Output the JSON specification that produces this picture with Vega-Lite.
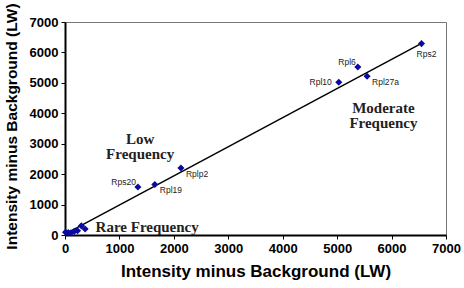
{
  "$schema": "https://vega.github.io/schema/vega-lite/v6.json",
  "width": 381,
  "height": 213,
  "autosize": {"type": "none"},
  "padding": {"left": 65, "top": 22, "right": 18, "bottom": 53},
  "background": "white",
  "config": {
    "view": {"stroke": "#777777", "strokeWidth": 1},
    "font": "Liberation Sans",
    "axis": {
      "grid": false,
      "domainColor": "black",
      "domainWidth": 2,
      "tickColor": "black",
      "tickSize": 4,
      "tickWidth": 1,
      "format": "d",
      "labelOverlap": false,
      "labelBound": false,
      "labelFlush": false,
      "labelFont": "Liberation Sans",
      "labelFontWeight": "bold",
      "labelFontSize": 13,
      "labelColor": "black",
      "titleFont": "Liberation Sans",
      "titleFontWeight": "bold",
      "titleFontSize": 17,
      "titleColor": "black"
    }
  },
  "datasets": {
    "pts": [
      {"label": "", "x": 10, "y": 90},
      {"label": "", "x": 60, "y": 80},
      {"label": "", "x": 110, "y": 70},
      {"label": "", "x": 170, "y": 120},
      {"label": "", "x": 230, "y": 140},
      {"label": "", "x": 300, "y": 300},
      {"label": "", "x": 370, "y": 200},
      {"label": "Rps20", "x": 1340, "y": 1580},
      {"label": "Rpl19", "x": 1650, "y": 1660},
      {"label": "Rplp2", "x": 2130, "y": 2200},
      {"label": "Rpl10", "x": 5030, "y": 5020},
      {"label": "Rpl6", "x": 5380, "y": 5520},
      {"label": "Rpl27a", "x": 5550, "y": 5220},
      {"label": "Rps2", "x": 6550, "y": 6290}
    ],
    "fit": [
      {"x": 0, "y": 30},
      {"x": 6550, "y": 6300}
    ],
    "notes": [
      {"text": "Low\nFrequency", "x": 1380, "y": 3140},
      {"text": "Moderate\nFrequency", "x": 5850, "y": 4180},
      {"text": "Rare Frequency", "x": 1510, "y": 260}
    ]
  },
  "layer": [
    {
      "data": {"name": "fit"},
      "mark": {"type": "line", "color": "black", "strokeWidth": 1.5},
      "encoding": {
        "x": {
          "field": "x", "type": "quantitative",
          "scale": {"domain": [0, 7000], "nice": false},
          "axis": {"values": [0, 1000, 2000, 3000, 4000, 5000, 6000, 7000], "title": "Intensity minus Background (LW)", "titlePadding": 8, "labelPadding": 3}
        },
        "y": {
          "field": "y", "type": "quantitative",
          "scale": {"domain": [0, 7000], "nice": false},
          "axis": {"tickCount": 7, "title": "Intensity minus Background (LW)", "labelPadding": 3, "labelBound": false, "labelOverlap": false, "labelFlush": false, "titleFontSize": 15.5, "titleX": -54, "titleY": 104, "titleAngle": -90, "titleBaseline": "middle", "titleAlign": "center"}
        }
      }
    },
    {
      "data": {"name": "pts"},
      "mark": {"type": "point", "shape": "diamond", "filled": true, "color": "#0a0aa0", "size": 50, "opacity": 1},
      "encoding": {
        "x": {"field": "x", "type": "quantitative"},
        "y": {"field": "y", "type": "quantitative"}
      }
    },
    {
      "data": {"name": "pts"},
      "transform": [{"filter": "indexof(['Rpl19','Rplp2','Rpl27a'], datum.label) >= 0"}],
      "mark": {"type": "text", "align": "left", "baseline": "middle", "dx": 5, "dy": 6, "fontSize": 8.5, "color": "#222222"},
      "encoding": {
        "x": {"field": "x", "type": "quantitative"},
        "y": {"field": "y", "type": "quantitative"},
        "text": {"field": "label"}
      }
    },
    {
      "data": {"name": "pts"},
      "transform": [{"filter": "datum.label == 'Rps2'"}],
      "mark": {"type": "text", "align": "center", "baseline": "middle", "dx": 5, "dy": 10, "fontSize": 8.5, "color": "#222222"},
      "encoding": {
        "x": {"field": "x", "type": "quantitative"},
        "y": {"field": "y", "type": "quantitative"},
        "text": {"field": "label"}
      }
    },
    {
      "data": {"name": "pts"},
      "transform": [{"filter": "indexof(['Rps20','Rpl6'], datum.label) >= 0"}],
      "mark": {"type": "text", "align": "right", "baseline": "middle", "dx": -2, "dy": -5, "fontSize": 8.5, "color": "#222222"},
      "encoding": {
        "x": {"field": "x", "type": "quantitative"},
        "y": {"field": "y", "type": "quantitative"},
        "text": {"field": "label"}
      }
    },
    {
      "data": {"name": "pts"},
      "transform": [{"filter": "datum.label == 'Rpl10'"}],
      "mark": {"type": "text", "align": "right", "baseline": "middle", "dx": -7, "dy": 0, "fontSize": 8.5, "color": "#222222"},
      "encoding": {
        "x": {"field": "x", "type": "quantitative"},
        "y": {"field": "y", "type": "quantitative"},
        "text": {"field": "label"}
      }
    },
    {
      "data": {"name": "notes"},
      "mark": {"type": "text", "align": "center", "baseline": "middle", "font": "Liberation Serif", "fontWeight": "bold", "fontSize": 15, "lineBreak": "\n", "lineHeight": 15, "color": "#222222"},
      "encoding": {
        "x": {"field": "x", "type": "quantitative"},
        "y": {"field": "y", "type": "quantitative"},
        "text": {"field": "text"}
      }
    }
  ]
}
